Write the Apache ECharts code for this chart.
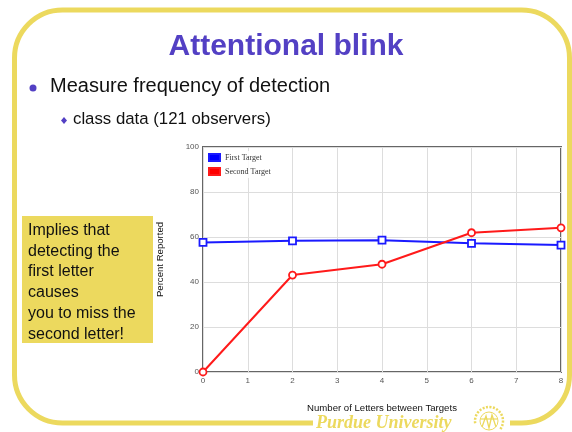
<!DOCTYPE html>
<html>
<head>
<meta charset="utf-8">
<script src="https://cdn.jsdelivr.net/npm/echarts@6/dist/echarts.min.js"></script>
<style>
  html, body { margin: 0; padding: 0; background: #fff; }
  #chart { width: 572px; height: 432px; }
</style>
</head>
<body>
<div id="chart"></div>
<script>
// Letters between the two targets (lag)
const lags = [0, 2, 4, 6, 8];
// Percent of observers reporting each target
const firstTarget = [57.6, 58.3, 58.6, 57.2, 56.4];
const secondTarget = [0, 43.1, 47.9, 61.9, 64.1];
const xTicks = [0, 1, 2, 3, 4, 5, 6, 7, 8];
const yTicks = [0, 20, 40, 60, 80, 100];

const yellow = '#ecd95e';
const sans = '"Liberation Sans", Arial, Helvetica, sans-serif';
const serif = '"Liberation Serif", "Times New Roman", serif';

const chart = echarts.init(document.getElementById('chart'), null, { renderer: 'canvas' });

const boxLines = ['Implies that', 'detecting the', 'first letter', 'causes', 'you to miss the', 'second letter!'];

chart.setOption({
  animation: false,
  backgroundColor: '#fff',
  graphic: [
    // slide frame
    { type: 'rect', z: 0, shape: { x: 14.5, y: 10, width: 555, height: 413, r: 48 },
      style: { fill: 'none', stroke: yellow, lineWidth: 5 } },
    // gap in the bottom edge for the footer
    { type: 'rect', z: 1, shape: { x: 313, y: 416, width: 197, height: 16 }, style: { fill: '#fff' } },
    { type: 'text', z: 2, left: 316, top: 414,
      style: { text: 'Purdue University', fill: yellow, font: 'italic bold 18px ' + serif } },
    // seal
    { type: 'arc', z: 2, shape: { cx: 489, cy: 421, r: 14, startAngle: Math.PI * 0.95, endAngle: Math.PI * 2.2 },
      style: { fill: 'none', stroke: yellow, lineWidth: 2.5, lineDash: [2, 1.5] } },
    { type: 'circle', z: 2, shape: { cx: 489, cy: 421, r: 9 }, style: { fill: 'none', stroke: yellow, lineWidth: 1 } },
    { type: 'polyline', z: 2, shape: { points: [[482, 427], [486, 416], [489, 428], [492, 415], [496, 427]] },
      style: { fill: 'none', stroke: yellow, lineWidth: 1.3 } },
    { type: 'line', z: 2, shape: { x1: 481, y1: 419, x2: 497, y2: 419 }, style: { stroke: yellow, lineWidth: 1.2 } },
    // title
    { type: 'text', z: 2, left: 'center', top: 32,
      style: { text: 'Attentional blink', fill: '#5340c4', font: 'bold 30px ' + sans } },
    // bullets
    { type: 'circle', z: 2, shape: { cx: 33, cy: 88, r: 3.5 }, style: { fill: '#5340c4' } },
    { type: 'text', z: 2, left: 50, top: 76,
      style: { text: 'Measure frequency of detection', fill: '#111', font: '20px ' + sans } },
    { type: 'polygon', z: 2, shape: { points: [[64, 117], [67, 120.5], [64, 124], [61, 120.5]] }, style: { fill: '#5340c4' } },
    { type: 'text', z: 2, left: 73, top: 111,
      style: { text: 'class data (121 observers)', fill: '#111', font: '16.8px ' + sans } },
    // side note
    { type: 'rect', z: 2, shape: { x: 22, y: 216, width: 131, height: 127 }, style: { fill: yellow } },
    { type: 'text', z: 3, left: 28, top: 220,
      style: { text: boxLines.join('\n'), fill: '#111', font: '16px ' + sans, lineHeight: 20.8 } }
  ],
  legend: {
    left: 206, top: 151, orient: 'vertical', itemGap: 5,
    itemWidth: 11, itemHeight: 7, icon: 'rect',
    backgroundColor: 'rgba(255,255,255,0.85)', padding: [2, 4, 2, 2],
    textStyle: { fontFamily: serif, fontSize: 8, color: '#333' },
    data: [
      { name: 'First Target', itemStyle: { color: '#0000ff' } },
      { name: 'Second Target', itemStyle: { color: '#ff0000' } }
    ]
  },
  grid: {
    left: 203, right: 11, top: 147, bottom: 60,
    show: true, borderColor: '#666', borderWidth: 2, backgroundColor: '#fff'
  },
  xAxis: {
    type: 'value', min: xTicks[0], max: xTicks[xTicks.length - 1], interval: 1,
    name: 'Number of Letters between Targets', nameLocation: 'middle', nameGap: 31,
    nameTextStyle: { fontFamily: sans, fontSize: 9.6, color: '#111' },
    axisLine: { show: false }, axisTick: { show: false },
    axisLabel: { fontFamily: sans, fontSize: 8, color: '#555', margin: 5 },
    splitLine: { show: true, lineStyle: { color: '#ddd', width: 1 } }
  },
  yAxis: {
    type: 'value', min: yTicks[0], max: yTicks[yTicks.length - 1], interval: 20,
    name: 'Percent Reported', nameLocation: 'middle', nameGap: 38,
    nameTextStyle: { fontFamily: sans, fontSize: 9.6, color: '#111' },
    axisLine: { show: false }, axisTick: { show: false },
    axisLabel: { fontFamily: sans, fontSize: 8, color: '#555', margin: 4 },
    splitLine: { show: true, lineStyle: { color: '#ddd', width: 1 } }
  },
  series: [
    {
      name: 'First Target', type: 'line',
      data: lags.map((x, i) => [x, firstTarget[i]]),
      symbol: 'rect', symbolSize: 7, showAllSymbol: true,
      lineStyle: { color: '#1a1aff', width: 2 },
      itemStyle: { color: '#fff', borderColor: '#1a1aff', borderWidth: 1.8 }
    },
    {
      name: 'Second Target', type: 'line',
      data: lags.map((x, i) => [x, secondTarget[i]]),
      symbol: 'circle', symbolSize: 7, showAllSymbol: true,
      lineStyle: { color: '#ff1a1a', width: 2 },
      itemStyle: { color: '#fff', borderColor: '#ff1a1a', borderWidth: 1.8 }
    }
  ]
});
</script>
</body>
</html>
